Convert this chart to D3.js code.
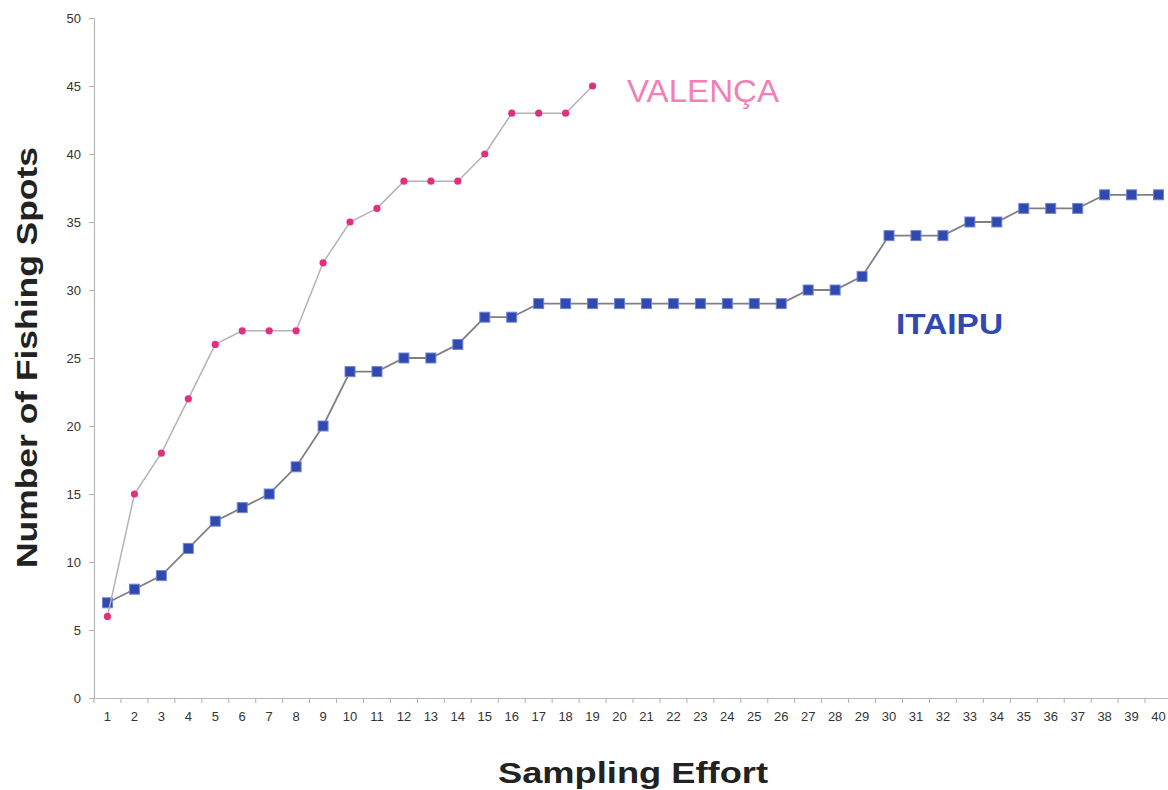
<!DOCTYPE html>
<html><head><meta charset="utf-8">
<script src="https://cdn.jsdelivr.net/npm/d3@7"></script>
<style>body{margin:0;background:#fff}svg{display:block}</style>
</head><body>
<svg id="c" width="1168" height="790"></svg>
<script>
const categories = d3.range(1, 41).map(String);
const valenca = [6, 15, 18, 22, 26, 27, 27, 27, 32, 35, 36, 38, 38, 38, 40, 43, 43, 43, 45];
const itaipu = [7, 8, 9, 11, 13, 14, 15, 17, 20, 24, 24, 25, 25, 26, 28, 28, 29, 29, 29, 29,
                29, 29, 29, 29, 29, 29, 30, 30, 31, 34, 34, 34, 35, 35, 36, 36, 36, 37, 37, 37];
const yTicks = [0, 5, 10, 15, 20, 25, 30, 35, 40, 45, 50];

(function () {
const svg = d3.select("#c");
const mLeft = 94, mRight = 1172, mTop = 18, mBottom = 698;
const x = d3.scaleBand().domain(categories).range([mLeft, mRight]);
const y = d3.scaleLinear().domain([0, 50]).range([mBottom, mTop]);
const cx = d => x(d) + x.bandwidth() / 2;
const font = "Arial, 'Liberation Sans', sans-serif";

const yAxis = svg.append("g").attr("transform", `translate(${mLeft},0)`)
  .call(d3.axisLeft(y).tickValues(yTicks).tickSize(5).tickPadding(8));
const xAxis = svg.append("g").attr("transform", `translate(0,${mBottom})`)
  .call(d3.axisBottom(x).tickSize(0).tickPadding(14));
[yAxis, xAxis].forEach(g => {
  g.select(".domain").attr("stroke", "#b8b8b8").attr("stroke-width", 1.2);
  g.selectAll(".tick line").attr("stroke", "#b0b0b0");
  g.selectAll(".tick text").attr("fill", "#333").attr("font-family", font).attr("font-size", 13);
});
xAxis.selectAll(".bt").data(categories).join("line").attr("class", "bt")
  .attr("x1", d => x(d)).attr("x2", d => x(d)).attr("y1", 0).attr("y2", 5)
  .attr("stroke", "#b0b0b0");

const line = d3.line().x((d, i) => cx(categories[i])).y(d => y(d));

svg.append("path").datum(itaipu).attr("d", line)
  .attr("fill", "none").attr("stroke", "#808080").attr("stroke-width", 1.8);
svg.selectAll(".sq").data(itaipu).join("rect").attr("class", "sq")
  .attr("x", (d, i) => cx(categories[i]) - 5).attr("y", d => y(d) - 5)
  .attr("width", 10).attr("height", 10)
  .attr("fill", "#2f49b0").attr("stroke", "#6f86d4").attr("stroke-width", 1);

svg.append("path").datum(valenca).attr("d", line)
  .attr("fill", "none").attr("stroke", "#b8b0b8").attr("stroke-width", 1.5);
svg.selectAll(".ci").data(valenca).join("circle").attr("class", "ci")
  .attr("cx", (d, i) => cx(categories[i])).attr("cy", d => y(d)).attr("r", 3.6)
  .attr("fill", "#e0307f");

svg.append("text").attr("x", 627).attr("y", 102).text("VALENÇA")
  .attr("font-family", font).attr("font-size", 31)
  .attr("textLength", 152).attr("lengthAdjust", "spacingAndGlyphs").attr("fill", "#f27fb6");
svg.append("text").attr("x", 896).attr("y", 334).text("ITAIPU")
  .attr("font-family", font).attr("font-size", 29).attr("font-weight", "bold")
  .attr("textLength", 107).attr("lengthAdjust", "spacingAndGlyphs").attr("fill", "#3048b0");

svg.append("text").attr("x", 498).attr("y", 783)
  .text("Sampling Effort").attr("font-family", font).attr("font-size", 30)
  .attr("textLength", 270).attr("lengthAdjust", "spacingAndGlyphs")
  .attr("font-weight", "bold").attr("fill", "#222");
svg.append("text").attr("transform", "translate(37,568) rotate(-90)")
  .text("Number of Fishing Spots").attr("font-family", font).attr("font-size", 30)
  .attr("textLength", 421).attr("lengthAdjust", "spacingAndGlyphs")
  .attr("font-weight", "bold").attr("fill", "#222");
})();
</script>
</body></html>
